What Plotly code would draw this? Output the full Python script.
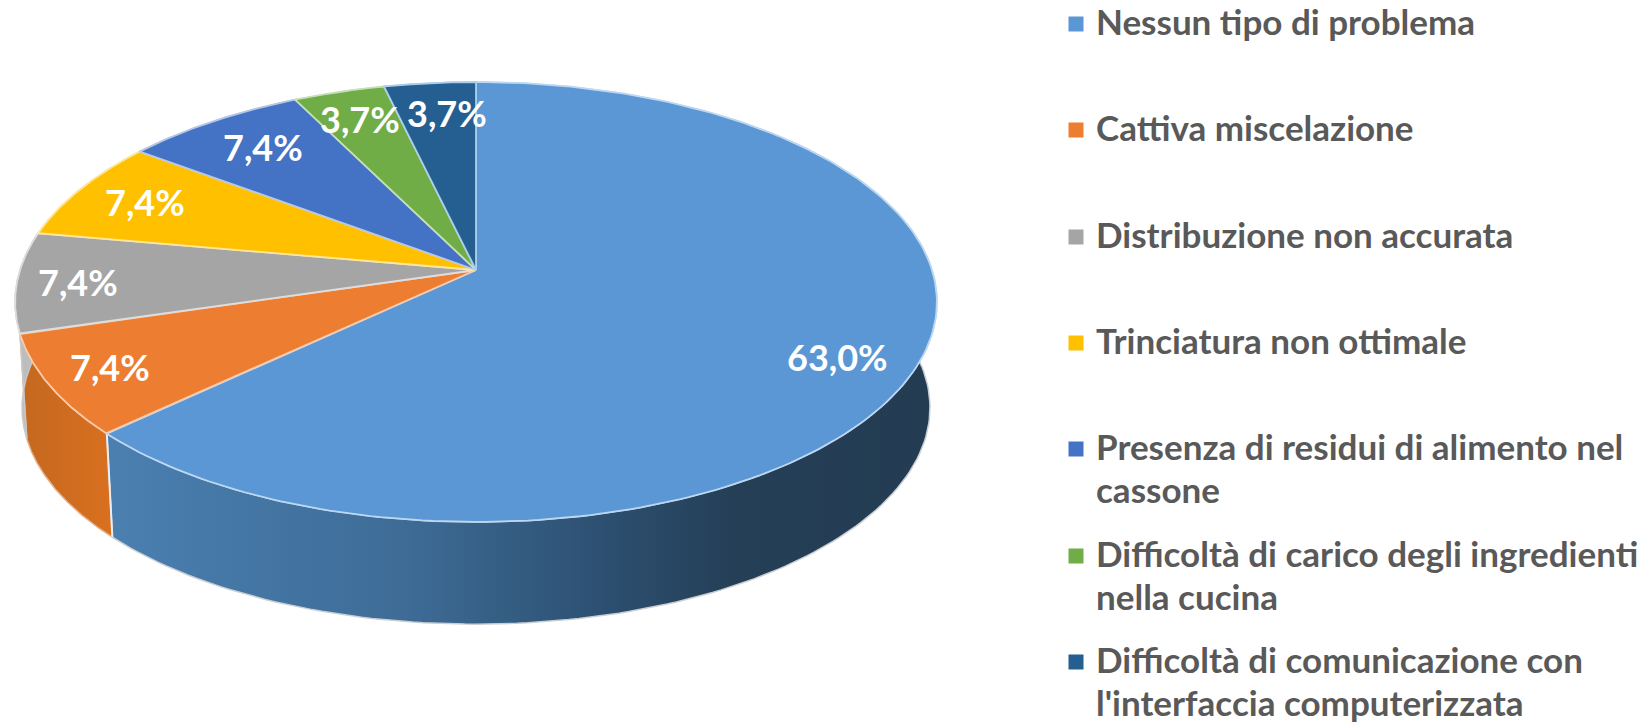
import numpy as np
import plotly.graph_objects as go

# dati della torta
categorie = ["Nessun tipo di problema", "Cattiva miscelazione", "Distribuzione non accurata",
             "Trinciatura non ottimale", "Presenza di residui di alimento nel<br>cassone",
             "Difficoltà di carico degli ingredienti<br>nella cucina",
             "Difficoltà di comunicazione con<br>l'interfaccia computerizzata"]
valori = [63.0, 7.4, 7.4, 7.4, 7.4, 3.7, 3.7]
colori = ["#5B97D5", "#ED7D31", "#A5A5A5", "#FFC000", "#4472C4", "#70AD47", "#255E91"]
colori_bordo = ["#BBD7F2", "#F8CBAD", "#DDDDDD", "#FFE699", "#B4C7E7", "#C5E0B4", "#A9CDEB"]
colori_lato = [
    [[0, "#4A7FB0"], [0.35, "#3E6C97"], [0.6, "#2C4F70"], [0.75, "#253F57"], [1, "#233C52"]],
    [[0, "#C4681F"], [1, "#D9701F"]],
    [[0, "#BDBDBD"], [1, "#BDBDBD"]],
    [[0, "#BF9000"], [1, "#BF9000"]],
    [[0, "#335593"], [1, "#335593"]],
    [[0, "#548235"], [1, "#548235"]],
    [[0, "#1C466D"], [1, "#1C466D"]],
]

# posizione delle etichette e della legenda (pixel)
etichette_x = [837, 110, 78, 145, 263, 360, 447]
etichette_y = [357, 367, 282, 202, 147, 119, 113]
legenda_y = [24, 130, 237, 343, 449, 556, 662]
interlinea = 43

# geometria della torta in prospettiva
cx, cy = 476, 270
a, b, k = 456, 215.3, 0.1455
scala_base, cy_base = 0.985, 376


def bordo(t, s=1.0, y0=cy):
    den = 1 + k * np.cos(t)
    return cx + s * a * np.sin(t) / den, y0 - s * b * np.cos(t) / den


quote = np.cumsum([0] + valori) / sum(valori) * 2 * np.pi
fig = go.Figure()

# lati della torta
for i in range(len(valori)):
    t = np.linspace(quote[i], quote[i + 1], 200)
    x1, y1 = bordo(t)
    x2, y2 = bordo(t[::-1], scala_base, cy_base)
    fig.add_trace(go.Scatter(
        x=np.r_[x1, x2, x1[0]], y=np.r_[y1, y2, y1[0]], mode="lines", fill="toself",
        line=dict(color="#C9CED4" if i == 0 else "#E3B08C" if i == 1 else "#C8C8C8", width=1.5),
        fillgradient=dict(type="horizontal", colorscale=colori_lato[i],
                          start=float(min(x1.min(), x2.min())) if i else 115, stop=float(max(x1.max(), x2.max()))),
        hoverinfo="skip", showlegend=False))

# spigolo tra i due lati visibili
t_spigolo = np.array([quote[1]])
xs1, ys1 = bordo(t_spigolo)
xs2, ys2 = bordo(t_spigolo, scala_base, cy_base)
fig.add_trace(go.Scatter(x=[xs1[0], xs2[0]], y=[ys1[0], ys2[0]], mode="lines",
                         line=dict(color="#E8EEF4", width=2), hoverinfo="skip", showlegend=False))

# faccia superiore
for i, nome in enumerate(categorie):
    t = np.linspace(quote[i], quote[i + 1], 200)
    x1, y1 = bordo(t)
    fig.add_trace(go.Scatter(
        x=np.r_[cx, x1, cx], y=np.r_[cy, y1, cy], mode="lines", fill="toself",
        fillcolor=colori[i], line=dict(color=colori_bordo[i], width=1.8),
        name=nome.replace("<br>", " "), hovertemplate="%{fullData.name}: " + f"{valori[i]:.1f}%<extra></extra>",
        showlegend=False))

# quadratini della legenda
fig.add_trace(go.Scatter(x=[1076] * len(categorie), y=legenda_y, mode="markers",
                         marker=dict(symbol="square", size=15, color=colori, line=dict(width=0)),
                         hoverinfo="skip", showlegend=False))

for i, v in enumerate(valori):
    fig.add_annotation(x=etichette_x[i], y=etichette_y[i], text=f"{v:.1f}%".replace(".", ","),
                       showarrow=False, font=dict(family="Lato", size=36, color="white", weight="bold"))

for nome, y in zip(categorie, legenda_y):
    for j, riga in enumerate(nome.split("<br>")):
        fig.add_annotation(x=1094, y=y - 3 + j * interlinea, text=riga, xanchor="left", showarrow=False,
                           font=dict(family="Lato", size=35, color="#595959", weight="bold"))

fig.update_xaxes(range=[0, 1651], visible=False, fixedrange=True)
fig.update_yaxes(range=[722, 0], visible=False, fixedrange=True)
fig.update_layout(width=1651, height=722, margin=dict(l=0, r=0, t=0, b=0),
                  paper_bgcolor="white", plot_bgcolor="white")

fig.write_html("out.html", config={"displayModeBar": False},
               post_script="document.body.style.margin='0';document.body.style.overflow='hidden';")
